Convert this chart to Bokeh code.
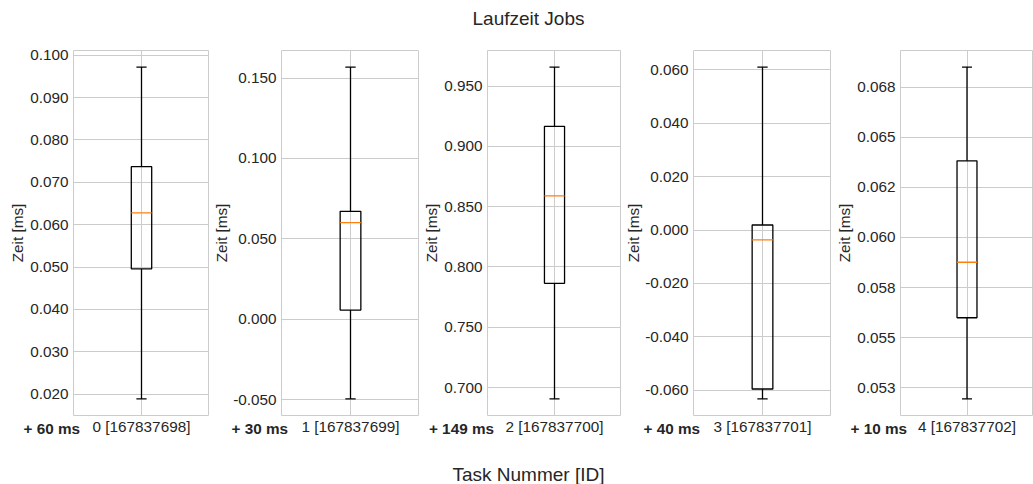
from bokeh.embed import file_html
from bokeh.layouts import row
from bokeh.models import ColumnDataSource, CustomJSTickFormatter, FixedTicker, Label, Range1d, Title
from bokeh.plotting import figure
from bokeh.resources import INLINE

# Per-task run time statistics (ms, relative to each task's offset)
task_labels = ["0 [167837698]", "1 [167837699]", "2 [167837700]", "3 [167837701]", "4 [167837702]"]
offset_labels = ["+ 60 ms", "+ 30 ms", "+ 149 ms", "+ 40 ms", "+ 10 ms"]
whisker_low = [0.0189, -0.0494, 0.6906, -0.0632, 0.05194]
quartile_1 = [0.0496, 0.0058, 0.7864, -0.0595, 0.05599]
medians = [0.0628, 0.0602, 0.8589, -0.0037, 0.05876]
quartile_3 = [0.0737, 0.0672, 0.9166, 0.0019, 0.06382]
whisker_high = [0.0972, 0.1568, 0.9657, 0.0610, 0.0685]

y_ticks = [
    [0.02, 0.03, 0.04, 0.05, 0.06, 0.07, 0.08, 0.09, 0.10],
    [-0.05, 0.0, 0.05, 0.10, 0.15],
    [0.70, 0.75, 0.80, 0.85, 0.90, 0.95],
    [-0.06, -0.04, -0.02, 0.0, 0.02, 0.04, 0.06],
    [0.0525, 0.055, 0.0575, 0.06, 0.0625, 0.065, 0.0675],
]
y_tick_labels = [
    ["0.020", "0.030", "0.040", "0.050", "0.060", "0.070", "0.080", "0.090", "0.100"],
    ["-0.050", "0.000", "0.050", "0.100", "0.150"],
    ["0.700", "0.750", "0.800", "0.850", "0.900", "0.950"],
    ["-0.060", "-0.040", "-0.020", "0.000", "0.020", "0.040", "0.060"],
    ["0.053", "0.055", "0.058", "0.060", "0.062", "0.065", "0.068"],
]

title_text = "Laufzeit Jobs"
x_title_text = "Task Nummer [ID]"
y_title_text = "Zeit [ms]"

# Layout
FONT = "Liberation Sans"
TEXT_COLOR = "#262626"
GRID_COLOR = "#cccccc"
HEIGHT = 484
TOP = 50
FRAME_H = 365
left_borders = [73, 72, 68, 72, 69]
frame_widths = [136, 138, 134, 138, 133]
ytitle_standoffs = [3, 2, 3, 2, 3]
BOX_HALF = 0.075
CAP_HALF = 0.0375

tick_fmt_code = """
for (let i = 0; i < vals.length; i++) {
    if (Math.abs(vals[i] - tick) < 1e-9) { return labs[i]; }
}
return "";
"""


def side_label(text, x, y, dx, dy, size="15.3px", style="normal", align="center"):
    # positioned through the frame's scales, then nudged in pixels
    return Label(
        x=x, y=y, x_units="data", y_units="data", x_offset=dx, y_offset=dy,
        text=text, text_align=align, text_baseline="middle",
        text_font=FONT, text_font_size=size, text_font_style=style,
        text_color=TEXT_COLOR,
    )


figs = []
for i in range(len(task_labels)):
    lo, hi = whisker_low[i], whisker_high[i]
    pad = 0.05 * (hi - lo)
    y0, y1 = lo - pad, hi + pad
    L = left_borders[i]
    p = figure(
        width=L + frame_widths[i], height=HEIGHT,
        x_range=Range1d(0.5, 1.5), y_range=Range1d(y0, y1),
        output_backend="svg", toolbar_location=None,
        min_border_left=L, min_border_right=0,
        min_border_top=TOP, min_border_bottom=HEIGHT - TOP - FRAME_H,
    )
    p.background_fill_color = "white"
    p.border_fill_color = "white"
    p.outline_line_color = GRID_COLOR
    p.outline_line_width = 1

    # axes
    p.xaxis.ticker = FixedTicker(ticks=[1])
    p.xaxis.major_label_overrides = {1: task_labels[i]}
    p.yaxis.ticker = FixedTicker(ticks=y_ticks[i])
    p.yaxis.formatter = CustomJSTickFormatter(
        args=dict(vals=y_ticks[i], labs=y_tick_labels[i]), code=tick_fmt_code
    )
    for ax in (p.xaxis, p.yaxis):
        ax.axis_line_color = None
        ax.major_tick_line_color = None
        ax.minor_tick_line_color = None
        ax.major_tick_out = 0
        ax.major_tick_in = 0
        ax.minor_tick_out = 0
        ax.minor_tick_in = 0
        ax.major_label_text_font = FONT
        ax.major_label_text_font_size = "15.3px"
        ax.major_label_text_color = TEXT_COLOR
    p.yaxis.major_label_standoff = 5
    p.xaxis.major_label_standoff = 2

    p.xgrid.grid_line_color = GRID_COLOR
    p.ygrid.grid_line_color = GRID_COLOR
    p.xgrid.grid_line_width = 1
    p.ygrid.grid_line_width = 1

    # box plot pieces
    src = ColumnDataSource(dict(
        x=[1.0], lo=[whisker_low[i]], q1=[quartile_1[i]], med=[medians[i]],
        q3=[quartile_3[i]], hi=[whisker_high[i]],
        bl=[1.0 - BOX_HALF], br=[1.0 + BOX_HALF],
        cl=[1.0 - CAP_HALF], cr=[1.0 + CAP_HALF],
    ))
    p.segment(x0="x", y0="q3", x1="x", y1="hi", source=src, line_color="black", line_width=1.3)
    p.segment(x0="x", y0="q1", x1="x", y1="lo", source=src, line_color="black", line_width=1.3)
    p.segment(x0="cl", y0="hi", x1="cr", y1="hi", source=src, line_color="black", line_width=1.3)
    p.segment(x0="cl", y0="lo", x1="cr", y1="lo", source=src, line_color="black", line_width=1.3)
    p.quad(left="bl", right="br", bottom="q1", top="q3", source=src,
           fill_color=None, line_color="black", line_width=1.3)
    p.segment(x0="bl", y0="med", x1="br", y1="med", source=src,
              line_color="#ff7f0e", line_width=1.3)

    # y title, left of the tick labels
    p.add_layout(Title(
        text=y_title_text, align="center", standoff=ytitle_standoffs[i],
        text_font=FONT, text_font_size="15.3px", text_font_style="normal",
        text_color=TEXT_COLOR,
    ), "left")
    # offset note beside the task label
    p.add_layout(side_label(offset_labels[i], 0.5, y0, 6.5, -13,
                            style="bold", align="right"), "below")
    figs.append(p)

# overall title and shared x title, placed on the middle panel
mid = figs[2]
my0, my1 = mid.y_range.start, mid.y_range.end
mid_dx = 528 - (sum(left_borders[:2]) + sum(frame_widths[:2]) + left_borders[2])
mid.add_layout(side_label(title_text, 0.5, my1, mid_dx, 32, size="19px"), "above")
mid.add_layout(side_label(x_title_text, 0.5, my0, mid_dx, -58.5, size="19px"), "below")

layout = row(*figs)
open("out.html", "w").write(file_html(layout, INLINE))
